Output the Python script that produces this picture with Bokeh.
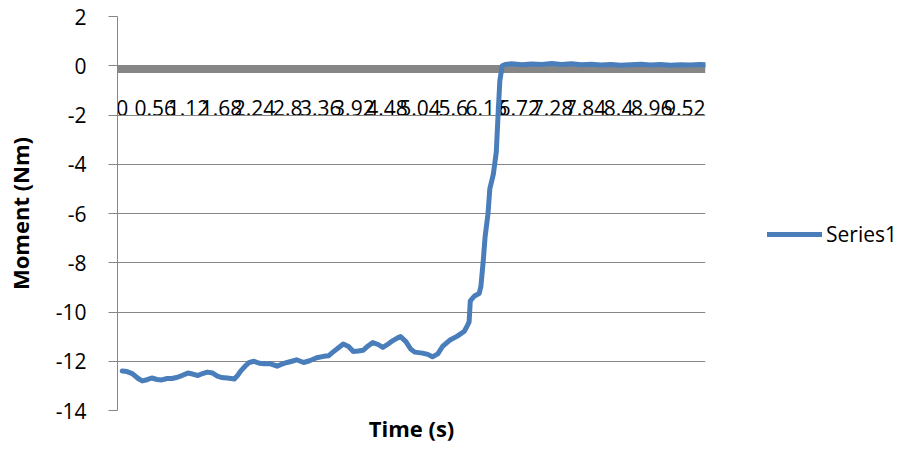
from bokeh.plotting import figure
from bokeh.layouts import row
from bokeh.models import (LinearAxis, FixedTicker, Legend, LegendItem, Title,
                          Range1d, ColumnDataSource)
from bokeh.embed import file_html
from bokeh.resources import INLINE

# ---- data ----
time_s = [0.00, 0.08, 0.17, 0.27, 0.34, 0.42, 0.50, 0.59, 0.67, 0.76, 0.84, 0.92,
          1.01, 1.11, 1.19, 1.28, 1.36, 1.44, 1.53, 1.61, 1.68, 1.78, 1.90, 1.96,
          2.01, 2.08, 2.15, 2.23, 2.32, 2.40, 2.50, 2.62, 2.70, 2.79, 2.87, 2.95,
          3.07, 3.17, 3.29, 3.41, 3.49, 3.57, 3.66, 3.74, 3.83, 3.91, 3.99, 4.08,
          4.16, 4.24, 4.33, 4.41, 4.50, 4.58, 4.66, 4.71, 4.80, 4.88, 4.95, 5.08,
          5.17, 5.25, 5.34, 5.42, 5.54, 5.67, 5.79, 5.84, 5.87, 5.89, 5.96, 6.04,
          6.07, 6.11, 6.14, 6.19, 6.22, 6.28, 6.33, 6.36, 6.39, 6.43, 6.48, 6.59,
          6.76, 6.93, 7.10, 7.27, 7.43, 7.60, 7.77, 7.94, 8.10, 8.27, 8.44, 8.61,
          8.78, 8.94, 9.11, 9.28, 9.45, 9.61, 9.78, 9.87]
moment_nm = [-12.40, -12.42, -12.50, -12.70, -12.80, -12.75, -12.68, -12.74, -12.76, -12.70, -12.70, -12.66,
             -12.58, -12.48, -12.52, -12.58, -12.50, -12.44, -12.48, -12.60, -12.66, -12.68, -12.72, -12.55,
             -12.38, -12.20, -12.05, -12.00, -12.08, -12.10, -12.10, -12.20, -12.12, -12.05, -12.00, -11.94,
             -12.05, -11.98, -11.86, -11.80, -11.78, -11.62, -11.45, -11.30, -11.40, -11.60, -11.58, -11.55,
             -11.38, -11.24, -11.32, -11.44, -11.30, -11.16, -11.05, -11.00, -11.20, -11.50, -11.63, -11.67,
             -11.72, -11.82, -11.70, -11.40, -11.15, -10.98, -10.78, -10.55, -10.40, -9.55, -9.35, -9.25,
             -8.95, -7.90, -6.96, -6.00, -5.00, -4.40, -3.50, -2.00, -0.60, 0.00, 0.05, 0.08,
             0.04, 0.07, 0.05, 0.09, 0.05, 0.08, 0.04, 0.06, 0.03, 0.05, 0.02, 0.04,
             0.06, 0.03, 0.05, 0.02, 0.04, 0.03, 0.05, 0.04]

x_tick_values = [0.0, 0.56, 1.12, 1.68, 2.24, 2.8, 3.36, 3.92, 4.48, 5.04, 5.6,
                 6.16, 6.72, 7.28, 7.84, 8.4, 8.96, 9.52]
x_tick_labels = ["0", "0.56", "1.12", "1.68", "2.24", "2.8", "3.36", "3.92", "4.48",
                 "5.04", "5.6", "6.16", "6.72", "7.28", "7.84", "8.4", "8.96", "9.52"]
y_ticks = [-14, -12, -10, -8, -6, -4, -2, 0, 2]
y_tick_labels = ["-14", "-12", "-10", "-8", "-6", "-4", "-2", "0", "2"]

series_name = "Series1"
x_title = "Time (s)"
y_title = "Moment (Nm)"

FONT = "Open Sans"
GRAY = "#868686"
BLUE = "#4a7ebb"

source = ColumnDataSource(data=dict(t=time_s, m=moment_nm))

p = figure(width=720, height=446, output_backend="svg", toolbar_location=None,
           x_range=Range1d(-0.08, 9.87), y_range=Range1d(-14, 2),
           x_axis_location=None, y_axis_location="left",
           min_border_left=117, min_border_right=15,
           min_border_top=16, min_border_bottom=36)
p.outline_line_color = None
p.background_fill_color = "white"
p.border_fill_color = "white"

# y axis
yax = p.yaxis[0]
yax.ticker = FixedTicker(ticks=y_ticks)
yax.major_label_overrides = {v: s for v, s in zip(y_ticks, y_tick_labels)}
yax.axis_line_color = GRAY
yax.axis_line_width = 1
yax.major_tick_line_color = GRAY
yax.major_tick_in = 0
yax.major_tick_out = 9
yax.minor_tick_line_color = None
yax.major_label_standoff = 22
yax.major_label_text_font = FONT
yax.major_label_text_font_size = "21px"
yax.major_label_text_color = "black"
yax.axis_label = y_title
yax.axis_label_text_font = FONT
yax.axis_label_text_font_size = "22px"
yax.axis_label_text_font_style = "bold"
yax.axis_label_text_color = "black"
yax.axis_label_standoff = 18

p.ygrid.ticker = FixedTicker(ticks=y_ticks)
p.ygrid.grid_line_color = GRAY
p.ygrid.grid_line_width = 1
p.xgrid.visible = False

# category-style x axis crossing at zero
xax = LinearAxis(fixed_location=-0.17,
                 ticker=FixedTicker(ticks=x_tick_values),
                 major_label_overrides={v: s for v, s in zip(x_tick_values, x_tick_labels)},
                 axis_line_color=GRAY, axis_line_width=7,
                 major_tick_line_color=None, minor_tick_line_color=None,
                 major_label_standoff=24,
                 major_label_text_font=FONT, major_label_text_font_size="21px",
                 major_label_text_color="black")
xax.level = "underlay"
p.add_layout(xax, "below")

p.add_layout(Title(text=x_title, align="center", text_font=FONT,
                   text_font_size="22px", text_font_style="bold",
                   text_color="black", standoff=0), "below")

r = p.line("t", "m", source=source, line_color=BLUE, line_width=5,
           line_join="round", line_cap="round")

# legend panel to the right of the chart (its renderer shares the series
# data but its view range lies outside the data, so only the key shows)
lf = figure(width=184, height=446, output_backend="svg", toolbar_location=None,
            x_range=Range1d(100, 101), y_range=Range1d(100, 101),
            x_axis_location=None, y_axis_location=None,
            min_border_left=0, min_border_right=0,
            min_border_top=0, min_border_bottom=0)
lf.outline_line_color = None
lf.xgrid.visible = False
lf.ygrid.visible = False
lr = lf.line("t", "m", source=source, line_color=BLUE, line_width=5, line_cap="round")

legend = Legend(items=[LegendItem(label=series_name, renderers=[lr])],
                location=(47, 162), glyph_width=55, glyph_height=20,
                label_standoff=4, padding=0, margin=0,
                border_line_color=None, background_fill_alpha=0,
                label_text_font=FONT, label_text_font_size="21px",
                label_text_color="black")
lf.add_layout(legend)

layout = row(p, lf)
open("out.html", "w").write(file_html(layout, INLINE))
